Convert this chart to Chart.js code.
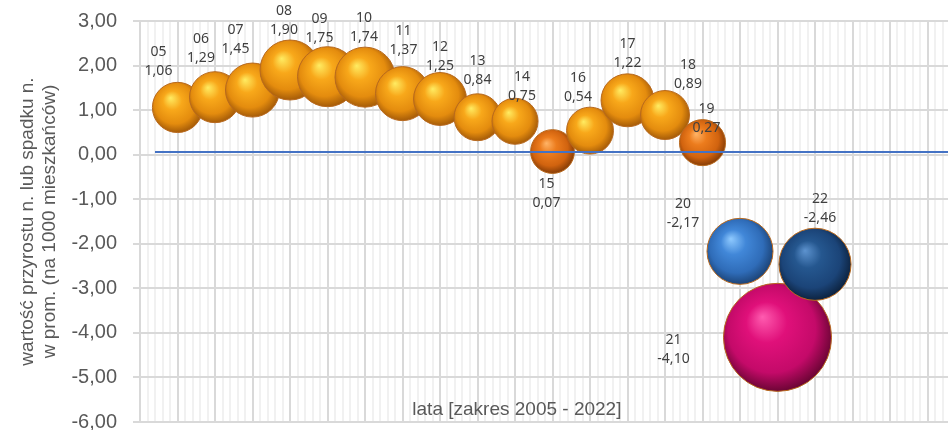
<!DOCTYPE html>
<html lang="pl">
<head>
<meta charset="utf-8">
<title>Przyrost naturalny 2005-2022</title>
<script src="https://cdn.jsdelivr.net/npm/chart.js@4"></script>
<style>
  html, body { margin: 0; padding: 0; background: #fff; overflow: hidden; }
  canvas { display: block; }
</style>
</head>
<body>
<canvas id="bubbleChart" width="965" height="440"></canvas>
<script>
// lata (dwie ostatnie cyfry roku) i wartości przyrostu / spadku na 1000 mieszkańców
const years = ['05', '06', '07', '08', '09', '10', '11', '12', '13', '14', '15', '16', '17', '18', '19', '20', '21', '22'];
const values = [1.06, 1.29, 1.45, 1.90, 1.75, 1.74, 1.37, 1.25, 0.84, 0.75, 0.07, 0.54, 1.22, 0.89, 0.27, -2.17, -4.10, -2.46];
// wielkość bąbelka (jak w arkuszu)
const bubbleSize = [6.3, 6.5, 7.3, 9.0, 9.0, 9.0, 7.3, 7.0, 5.5, 5.3, 4.8, 5.5, 7.0, 6.0, 5.3, 10.9, 29.2, 13.0];
// linia pozioma
const lineX = [4.4, 26];
const lineY = [0.06, 0.06];
const yTicks = { min: -6, max: 3, step: 1 };
const xTitle = 'lata [zakres 2005 - 2022]';
const yTitle = ['wartość przyrostu n. lub spadku n.', 'w prom. (na 1000 mieszkańców)'];

// styl kul
const ballKind = ['o', 'o', 'o', 'o', 'o', 'o', 'o', 'o', 'o', 'o', 'd', 'o', 'o', 'o', 'd', 'b', 'm', 'n'];
const palette = {
    o: ['#ffec62', '#f8a81a', '#e48c0e', '#a65c08'],
    d: ['#ffb467', '#ec7c1d', '#d1630f', '#873d06'],
    b: ['#8fcaff', '#4187d8', '#2f6cb8', '#1c4478'],
    n: ['#5d93cf', '#25578f', '#1b4478', '#0d2340'],
    m: ['#ff5cb0', '#e0107a', '#c40a69', '#6c0535']
};
// przesunięcie etykiety względem środka kuli [dx, dy]
const labelOffsets = [
    [-19, -36], [-14, -39], [-17, -41], [-6, -40], [-8, -39], [-1, -40],
    [1, -44], [0, -33], [0, -37], [7, -25], [-6, 51], [-12, -34],
    [0, -37], [23, -31], [4, -15], [-57, -28], [-104, 22], [5, -46]
];

const fmt = v => v.toFixed(2).replace('.', ',');

function ballColor(ctx) {
    const chart = ctx.chart;
    const raw = ctx.raw;
    const cols = palette[ballKind[ctx.dataIndex]] || palette.o;
    if (!raw || !chart.chartArea || !chart.scales.x) return cols[1];
    const cx = chart.scales.x.getPixelForValue(raw.x);
    const cy = chart.scales.y.getPixelForValue(raw.y);
    const r = raw.r;
    const g = chart.ctx.createRadialGradient(cx - r * 0.28, cy - r * 0.38, 0, cx - r * 0.05, cy - r * 0.08, r * 1.08);
    g.addColorStop(0, cols[0]);
    g.addColorStop(0.35, cols[1]);
    g.addColorStop(0.75, cols[2]);
    g.addColorStop(1, cols[3]);
    return g;
}

const bubbles = years.map((y, i) => ({
    x: parseInt(y, 10),
    y: values[i],
    r: 10 * Math.sqrt(bubbleSize[i])
}));

const pointLabels = {
    id: 'pointLabels',
    afterDatasetsDraw(chart) {
        const c = chart.ctx;
        const meta = chart.getDatasetMeta(0);
        c.save();
        c.textAlign = 'center';
        c.textBaseline = 'middle';
        c.fillStyle = '#404040';
        c.font = '14px "Noto Sans"';
        meta.data.forEach((el, i) => {
            const [dx, dy] = labelOffsets[i];
            c.fillText(years[i], el.x + dx, el.y + dy - 19);
            c.fillText(fmt(values[i]), el.x + dx, el.y + dy);
        });
        c.fillStyle = '#595959';
        c.font = '19px "Liberation Sans"';
        c.fillText(xTitle, chart.scales.x.getPixelForValue(14.05), chart.scales.y.getPixelForValue(-5.72));
        c.restore();
    }
};

const ctx = document.getElementById('bubbleChart').getContext('2d');
new Chart(ctx, {
    type: 'bubble',
    data: {
        datasets: [{
            label: 'przyrost',
            data: bubbles,
            backgroundColor: ballColor,
            borderColor: '#b8691e',
            borderWidth: 1,
            order: 1
        }, {
            type: 'line',
            label: 'linia',
            data: lineX.map((x, i) => ({ x: x, y: lineY[i] })),
            borderColor: '#4472c4',
            borderWidth: 2,
            pointRadius: 0,
            order: 0
        }]
    },
    options: {
        responsive: false,
        animation: false,
        events: [],
        layout: { autoPadding: false, padding: { top: 21, bottom: 18, left: 0, right: 0 } },
        plugins: {
            legend: { display: false },
            tooltip: { enabled: false }
        },
        scales: {
            x: {
                type: 'linear',
                min: 4,
                max: 26,
                ticks: { display: false, stepSize: 0.2 },
                grid: {
                    drawTicks: false,
                    color: c => (c.tick && Math.abs(c.tick.value - Math.round(c.tick.value)) < 1e-6) ? '#d9d9d9' : '#f1f1f1',
                    lineWidth: 2
                },
                border: { display: false },
                afterFit: scale => { scale.height = 0; }
            },
            y: {
                min: yTicks.min,
                max: yTicks.max,
                ticks: {
                    stepSize: yTicks.step,
                    callback: v => fmt(v),
                    color: '#595959',
                    font: { family: '"Liberation Sans"', size: 20 },
                    padding: 16
                },
                grid: {
                    color: '#d9d9d9',
                    lineWidth: 2,
                    tickLength: 7,
                    tickColor: '#d9d9d9'
                },
                border: { color: '#d9d9d9', width: 2 },
                title: {
                    display: true,
                    text: yTitle,
                    color: '#595959',
                    font: { family: '"Liberation Sans"', size: 19, lineHeight: 1.2 },
                    padding: { top: 16, bottom: 0 }
                },
                afterFit: scale => {
                    scale.width = 140;
                    scale.paddingTop = 0;
                    scale.paddingBottom = 0;
                }
            }
        }
    },
    plugins: [pointLabels]
});
</script>
</body>
</html>
